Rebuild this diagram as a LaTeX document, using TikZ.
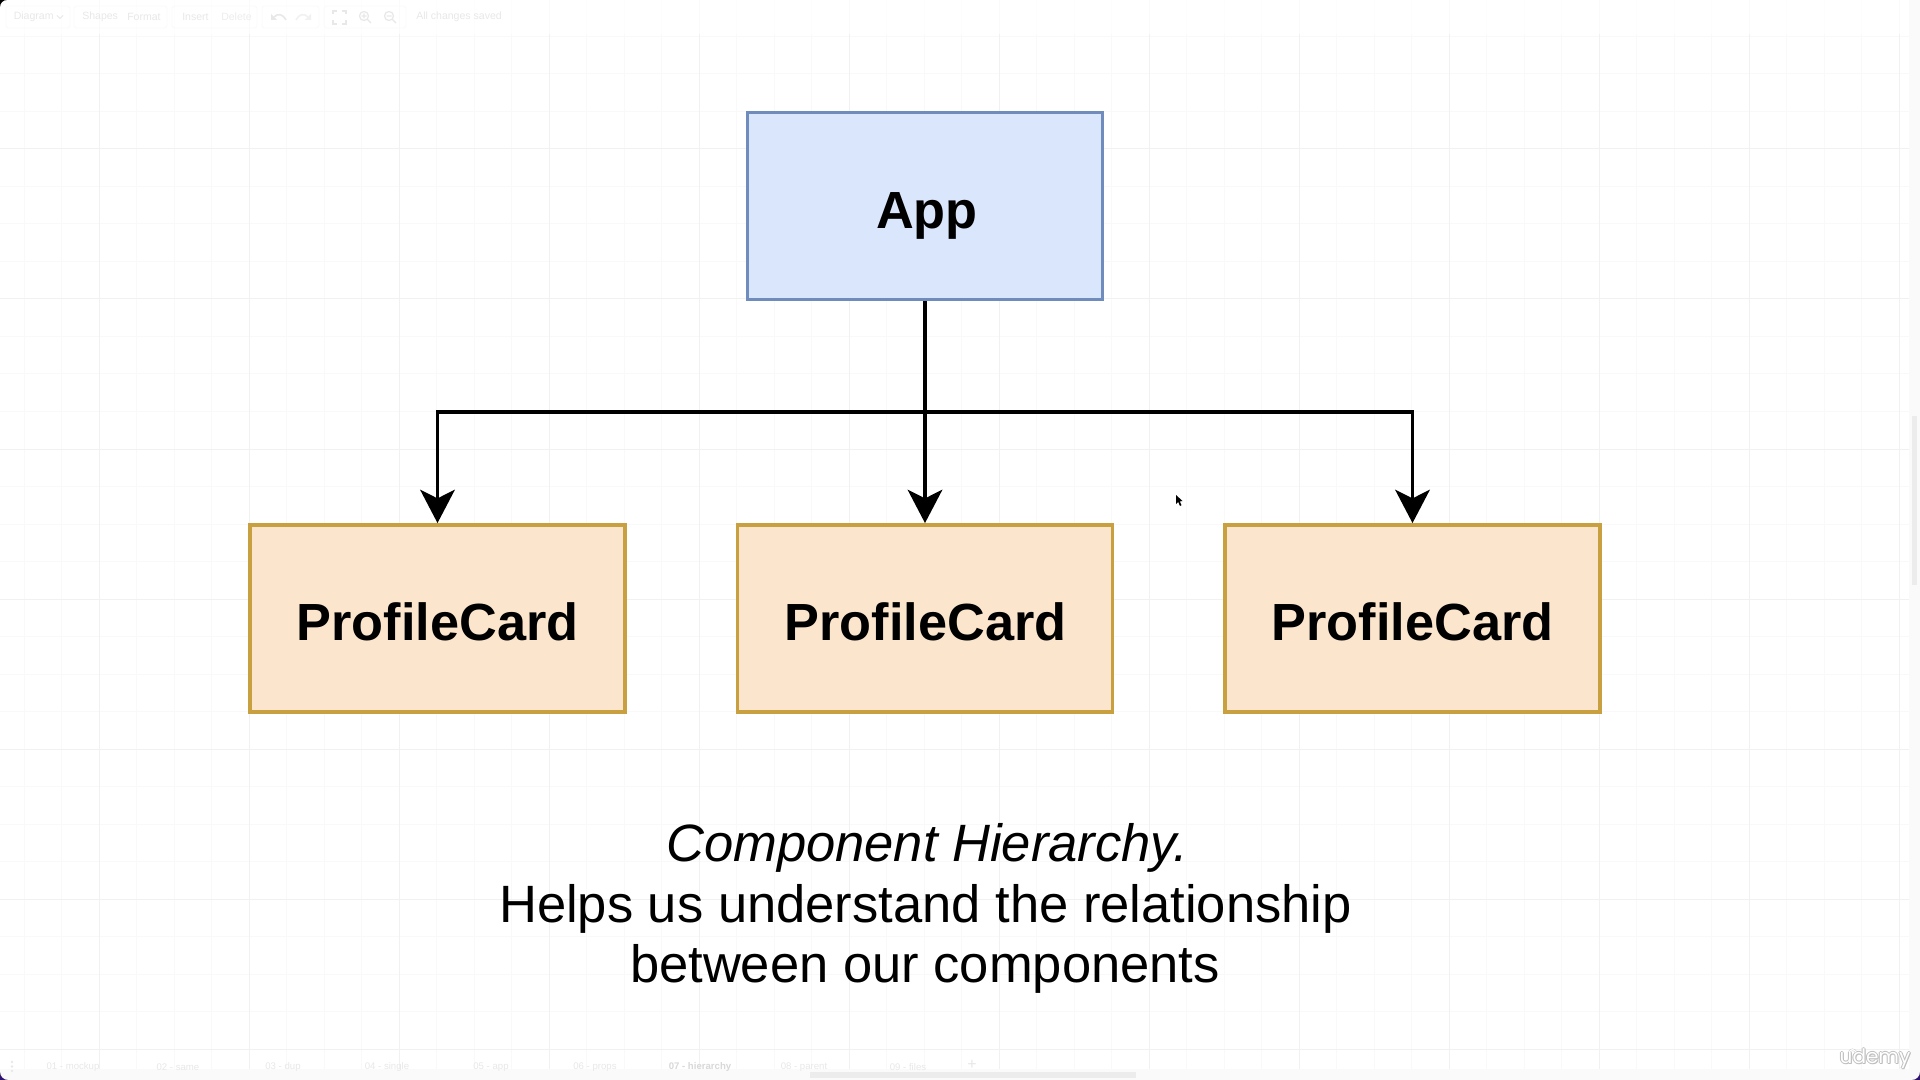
\documentclass[tikz,border=0pt]{standalone}
\usepackage{fontspec}
\setmainfont{Liberation Sans}
\newfontfamily\wmfont{Poppins}
\usetikzlibrary{arrows.meta,backgrounds}
\definecolor{gridminor}{HTML}{F9F9F9}
\definecolor{gridmajor}{HTML}{F1F1F1}
\definecolor{chrome}{HTML}{FAFAFA}
\definecolor{ghost}{HTML}{E8E8E8}
\definecolor{ghostdark}{HTML}{D8D8D8}
\definecolor{panelline}{HTML}{FAFAFA}
\definecolor{bluefill}{HTML}{DAE6FB}
\definecolor{blueline}{HTML}{6F8CBD}
\definecolor{orangefill}{HTML}{FBE5CD}
\definecolor{orangeline}{HTML}{C9A03F}
\definecolor{cornerpurple}{HTML}{2D1270}
\tikzset{
  x=0.75pt,y=-0.75pt,
  gridthin/.style={draw=gridminor,line width=0.75pt},
  gridthick/.style={draw=gridmajor,line width=0.75pt},
  appbox/.style={draw=blueline,fill=bluefill,line width=2.9pt,minimum width=355*0.75pt,minimum height=187*0.75pt,inner sep=0pt},
  cardbox/.style={draw=orangeline,fill=orangefill,line width=2.9pt,minimum width=375*0.75pt,minimum height=187*0.75pt,inner sep=0pt},
  boxlabel/.style={font=\fontsize{39.2}{39.2}\selectfont\bfseries,anchor=base,inner sep=0pt},
  captionline/.style={font=\fontsize{39.4}{39.4}\selectfont,anchor=base,inner sep=0pt},
  uitext/.style={font=\fontsize{7.9}{8}\selectfont,text=ghost,anchor=west,inner sep=0pt},
  uitab/.style={font=\fontsize{7.2}{8}\selectfont,text=ghost,anchor=center,inner sep=0pt},
  uipanel/.style={draw=panelline,line width=.6pt,rounded corners=2pt},
  uiicon/.style={draw=ghost,line width=.9pt},
  flow/.style={draw=black,line width=2.4pt,line cap=butt,line join=miter,-{Stealth[length=25pt,width=26pt,inset=6.5pt]}},
}
\begin{document}
\begin{tikzpicture}
\useasboundingbox (0,0) rectangle (1920,1080);
\fill[white] (0,0) rectangle (1920,1080);
% grid
\foreach \k in {0,...,50}{
  \pgfmathsetmacro{\gx}{24+37.5*\k}
  \ifdim\gx pt<1909pt \draw[gridthin] (\gx,0) -- (\gx,1080); \fi
}
\foreach \k in {0,...,29}{
  \pgfmathsetmacro{\gy}{36.5+37.5*\k}
  \draw[gridthin] (0,\gy) -- (1909,\gy);
}
\foreach \gx in {99,249,399,549,699,849,999,1149,1299,1449,1599,1749,1899}
  \draw[gridthick] (\gx,0) -- (\gx,1080);
\foreach \gy in {149,299,449,599,749,899,1049}
  \draw[gridthick] (0,\gy) -- (1909,\gy);
% chrome
\fill[chrome] (1909,0) rectangle (1920,1080);
\fill[chrome] (0,1069) rectangle (1920,1080);
\fill[white,opacity=.7] (0,0) rectangle (1909,34);
\fill[gridmajor!70!gray!40] (1912,416) rectangle (1917,585);
\fill[gridmajor!70!gray!40] (810,1072) rectangle (1136,1078);
\foreach \pa/\pb in {6/70,74/167,172/257,262/319,324/406}
  \draw[uipanel] (\pa,6) rectangle (\pb,28);
\node[uitext] (tb1) at (13.5,17) {Diagram};
\draw[uiicon,line width=.6pt] (57,15.5) -- (60,18.5) -- (63,15.5);
\node[uitext] (tb2) at (82,17) {Shapes};
\node[uitext] (tb3) at (127,17) {Format};
\node[uitext] (tb4) at (182,17) {Insert};
\node[uitext,text=gridminor!90!gray] (tb5) at (221,17) {Delete};
\node[uitext] (tb6) at (416,17) {All changes saved};
% undo / redo
\draw[uiicon,line width=1.2pt] (274,17) .. controls (278,13) and (283,14) .. (286,20);
\fill[ghost] (271,14) -- (271,20) -- (277,20) -- cycle;
\draw[uiicon,draw=gridmajor,line width=1.2pt] (308,17) .. controls (304,13) and (299,14) .. (296,20);
\fill[gridmajor] (311,14) -- (311,20) -- (305,20) -- cycle;
% fit, zoom in, zoom out
\draw[uiicon] (333,14) -- (333,11) -- (337,11) (342,11) -- (346,11) -- (346,14) (346,20) -- (346,24) -- (342,24) (337,24) -- (333,24) -- (333,20);
\draw[uiicon] (364,16) circle (4.5) (367.5,19.5) -- (371,23) (361.5,16) -- (366.5,16) (364,13.5) -- (364,18.5);
\draw[uiicon] (389,16) circle (4.5) (392.5,19.5) -- (396,23) (386.5,16) -- (391.5,16);
% tabs
\foreach \lab/\tx in {01 - mockup/73,02 - same/178,03 - dup/283,04 - single/387,05 - app/491,06 - props/595}
  \node[uitab] at (\tx,1067) {\lab};
\node[uitab,text=ghostdark,font=\fontsize{7.2}{8}\selectfont\bfseries] at (700,1067) {07 - hierarchy};
\node[uitab] at (804,1067) {08 - parent};
\node[uitab] at (908,1067) {09 - files};
\node[uitab,font=\fontsize{12}{12}\selectfont] at (972,1065) {+};
\fill[ghost] (12,1062) circle (1.4) (12,1066.5) circle (1.4) (12,1071) circle (1.4);
% screen corners
\fill[black] (0,0) -- (7,0) arc (-90:-180:7) -- cycle;
\fill[cornerpurple] (0,1080) -- (0,1072) arc (180:90:8) -- cycle;
\fill[cornerpurple] (1920,1080) -- (1920,1072) arc (0:90:8) -- cycle;
% boxes
\node[appbox] (app) at (925,206) {};
\node[cardbox] (card1) at (437.5,618.5) {};
\node[cardbox] (card2) at (925,618.5) {};
\node[cardbox] (card3) at (1412.5,618.5) {};
\node[boxlabel] (applabel) at (927,228.5) {App};
\node[boxlabel] (lab1) at (437.5,640) {ProfileCard};
\node[boxlabel] (lab2) at (925.5,640) {ProfileCard};
\node[boxlabel] (lab3) at (1412.5,640) {ProfileCard};
% connectors
\coordinate (bus) at (925,412);
\draw[flow] (app.south) -- (card2.north);
\draw[flow] (bus) -| (card1.north);
\draw[flow] (bus) -| (card3.north);
% caption
\node[captionline] (cap1) at (927,861.5) {\itshape Component Hierarchy.};
\node[captionline] (cap2) at (925.5,922) {Helps us understand the relationship};
\node[captionline] (cap3) at (925,982) {between our components};
% cursor
\fill[black] (1176,495) -- (1176,504) -- (1178.2,502) -- (1180,506) -- (1181.5,505.2) -- (1179.8,501.5) -- (1182.5,501) -- cycle;
% watermark
\foreach \ox/\oy in {-1/0,1/0,0/-1,0/1,1/1}
  \node[inner sep=0pt,font=\wmfont\fontsize{15}{15}\selectfont,text=black!25,anchor=center] at (1875+\ox,1059+\oy) {udemy};
\draw[black!25,line width=1.6pt] (1849,1052) .. controls (1851,1049) and (1854,1049) .. (1856,1052);
\draw[white,line width=1pt] (1849,1052) .. controls (1851,1049) and (1854,1049) .. (1856,1052);
\node[inner sep=0pt,font=\wmfont\fontsize{15}{15}\selectfont,text=white,anchor=center] (wm) at (1875,1059) {udemy};
\end{tikzpicture}
\end{document}
